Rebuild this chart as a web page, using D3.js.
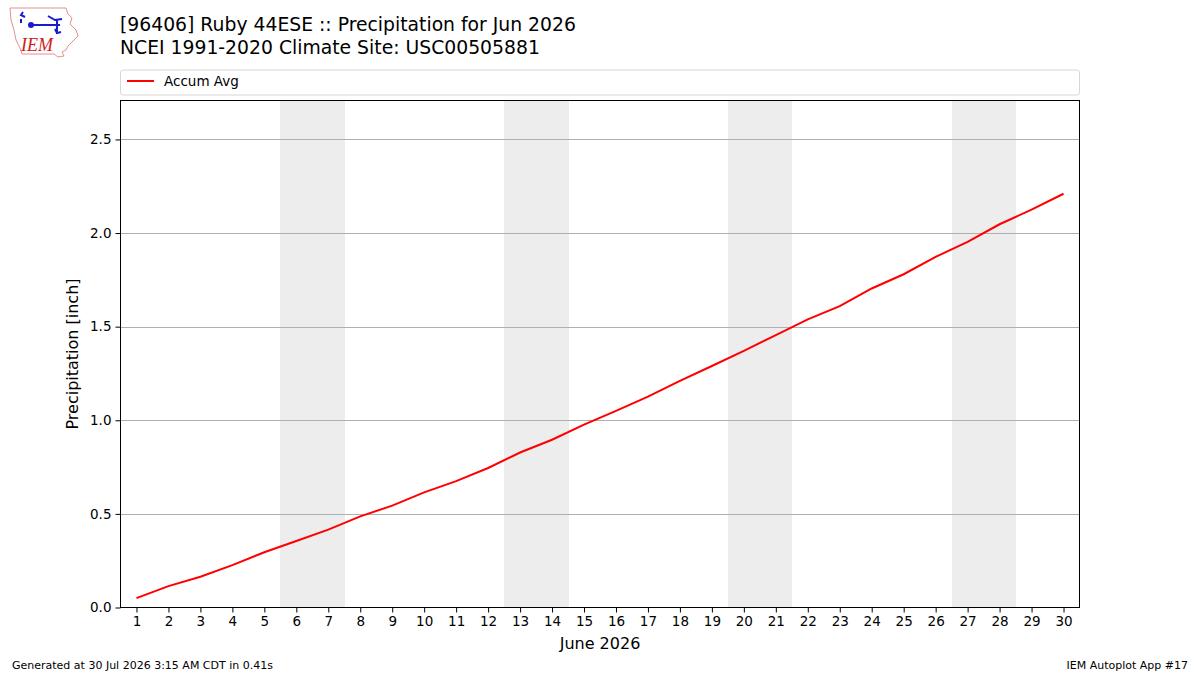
<!DOCTYPE html>
<html><head><meta charset="utf-8">
<script src="https://cdn.jsdelivr.net/npm/d3@7"></script>
<style>body{margin:0;background:#fff;} svg{display:block;font-family:"DejaVu Sans",sans-serif;}</style>
</head><body>
<svg id="c" width="1200" height="675"></svg>
<script>
const days = d3.range(1, 31);
const accumAvg = [0.05,0.114,0.164,0.226,0.295,0.355,0.416,0.487,0.544,0.615,0.675,0.745,0.828,0.896,0.977,1.050,1.126,1.21,1.29,1.371,1.455,1.539,1.61,1.704,1.78,1.873,1.953,2.047,2.125,2.21];
const weekendDays = [6,7,13,14,20,21,27,28];
const yTicks = [0,0.5,1.0,1.5,2.0,2.5];
const titleLines = ["[96406] Ruby 44ESE :: Precipitation for Jun 2026","NCEI 1991-2020 Climate Site: USC00505881"];

const svg = d3.select("#c");
const L=120.5, R=1079.5, T=100.5, B=607.5;
const x = d3.scaleLinear().domain([0.5,30.5]).range([L,R]);
const y = d3.scaleLinear().domain([0,2.708]).range([B,T]);

// weekend shading
svg.selectAll("rect.wk").data(weekendDays).enter().append("rect")
  .attr("x", d=>x(d-0.5)).attr("width", d=>x(d+0.5)-x(d-0.5)+0.6)
  .attr("y", T).attr("height", B-T).attr("fill","#ededed").attr("shape-rendering","crispEdges");

// grid
svg.selectAll("line.g").data(yTicks.slice(1)).enter().append("line")
  .attr("x1",L).attr("x2",R).attr("y1",d=>Math.round(y(d))+0.5).attr("y2",d=>Math.round(y(d))+0.5)
  .attr("stroke","#b0b0b0").attr("stroke-width",1);

// line
svg.append("path").datum(days.map((d,i)=>[d,accumAvg[i]]))
  .attr("d", d3.line().x(d=>x(d[0])).y(d=>y(d[1])))
  .attr("fill","none").attr("stroke","#ff0000").attr("stroke-width",2);

// frame
svg.append("rect").attr("x",L).attr("y",T).attr("width",R-L).attr("height",B-T)
  .attr("fill","none").attr("stroke","#000").attr("stroke-width",1);

// axes
const xAxis = svg.append("g").attr("transform",`translate(0,${B})`)
  .call(d3.axisBottom(x).tickValues(days).tickFormat(d3.format("d")).tickSize(5).tickPadding(4));
const yAxis = svg.append("g").attr("transform",`translate(${L},0)`)
  .call(d3.axisLeft(y).tickValues(yTicks).tickFormat(d3.format(".1f")).tickSize(5).tickPadding(4));
[xAxis,yAxis].forEach(a=>{
  a.select(".domain").remove();
  a.selectAll("text").attr("font-size",13.5).attr("fill","#000").attr("font-family","DejaVu Sans");
  a.selectAll("line").attr("stroke","#000");
});

svg.append("text").attr("x",(L+R)/2).attr("y",649).attr("text-anchor","middle")
  .attr("font-size",16).text("June 2026");
svg.append("text").attr("transform",`translate(78,${(T+B)/2}) rotate(-90)`).attr("text-anchor","middle")
  .attr("font-size",16).text("Precipitation [inch]");

// titles
svg.selectAll("text.t").data(titleLines).enter().append("text")
  .attr("x",120).attr("y",(d,i)=>31+i*23).attr("font-size",18.8).text(d=>d);

// legend
svg.append("rect").attr("x",120.5).attr("y",70).attr("width",959).attr("height",25).attr("rx",3)
  .attr("fill","#fff").attr("stroke","#d6d6d6");
svg.append("line").attr("x1",127).attr("x2",154).attr("y1",81).attr("y2",81).attr("stroke","#ff0000").attr("stroke-width",2);
svg.append("text").attr("x",164).attr("y",86).attr("font-size",13.5).text("Accum Avg");

// footer
svg.append("text").attr("x",12).attr("y",669).attr("font-size",11).text("Generated at 30 Jul 2026 3:15 AM CDT in 0.41s");
svg.append("text").attr("x",1188).attr("y",669).attr("text-anchor","end").attr("font-size",11).text("IEM Autoplot App #17");

// logo
const lg = svg.append("g");
lg.append("path").attr("d","M10,8 L66,8 L68,14 L72,18 L70,24 L76,30 L78,36 L72,42 L68,46 L66,50 L62,52 L64,56 L58,57 L54,54 L22,54 L20,48 L16,40 L14,30 L11,20 Z")
  .attr("fill","#fff").attr("stroke","#e59090").attr("stroke-width",1);
lg.append("path").attr("d","M23,12 L21,15 L25,17 M21,19 L21,23 M30,25 L60,25 M48,16 L55,20 L62,19 M57,20 L57,34 M55,29 L57,33 L61,32")
  .attr("fill","none").attr("stroke","#1a1ad0").attr("stroke-width",2);
lg.append("circle").attr("cx",31).attr("cy",25).attr("r",3).attr("fill","#1a1ad0");
lg.append("text").attr("x",21).attr("y",51).attr("font-family","Liberation Serif").attr("font-style","italic")
  .attr("font-size",18).attr("fill","#d02020").text("IEM");
</script>
</body></html>
